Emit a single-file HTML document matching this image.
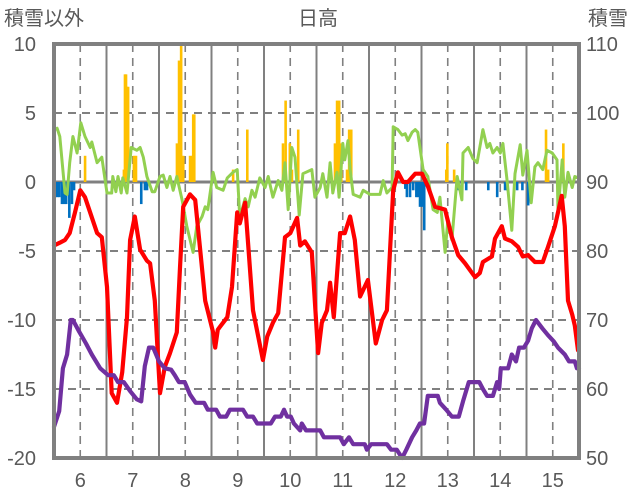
<!DOCTYPE html>
<html><head><meta charset="utf-8">
<style>
html,body{margin:0;padding:0;background:#fff;}
svg{display:block;font-family:"Liberation Sans","Noto Sans CJK JP",sans-serif;}
</style></head>
<body>
<svg id="chart" width="636" height="501" viewBox="0 0 636 501">
<text x="4" y="25" font-size="20" fill="#595959">積雪以外</text>
<text x="318" y="25" font-size="20" fill="#595959" text-anchor="middle">日高</text>
<text x="588" y="25" font-size="20" fill="#595959">積雪</text>
<g id="grid"></g>
<g id="bars"></g>
<g id="lines"></g>
<g id="axes"></g>
</svg>
<script>
const xTicks=[6,7,8,9,10,11,12,13,14,15];
const yLeftTicks=[10,5,0,-5,-10,-15,-20];
const yRightTicks=[110,100,90,80,70,60,50];
const barT=[6.09,6.83,6.85,6.87,6.89,6.91,7.02,7.04,7.06,7.84,7.88,7.92,7.96,8.09,8.13,8.15,8.17,8.91,9.18,9.86,9.91,9.99,10.03,10.15,10.85,10.89,10.93,10.97,11.08,11.12,11.16,12.97,12.99,13.12,14.87,14.91,15.20,
5.52,5.56,5.60,5.65,5.69,5.73,5.79,5.84,5.88,7.16,7.23,7.27,12.19,12.22,12.28,12.34,12.40,12.43,12.47,12.51,12.55,13.20,13.27,13.35,13.77,13.94,14.09,14.13,14.32,14.42,14.53];
const barV=[1.9,0.9,7.8,7.8,6.9,6.9,1.9,0.9,1.9,2.8,8.8,10,1.9,1.9,1.9,4.9,4.9,0.9,3.8,2.8,5.9,2.8,0.9,3.8,2.8,5.9,5.9,2.8,0.9,3.8,3.8,0.9,2.8,0.9,3.8,0.9,2.8,
-1.1,-1.1,-1.1,-1.6,-1.6,-1.6,-2.6,-1.6,-0.6,-1.6,-0.6,-0.6,-0.5,-1.1,-1.1,-0.6,-1.1,-1.1,-1.8,-1.8,-3.5,-0.6,-0.6,-0.6,-0.6,-1.1,-0.6,-0.6,-0.6,-0.6,-1.7];
const greenT=[5.50,5.56,5.61,5.71,5.75,5.80,5.86,5.94,6.01,6.09,6.19,6.22,6.32,6.41,6.51,6.60,6.62,6.68,6.72,6.78,6.81,6.89,6.97,7.08,7.14,7.20,7.27,7.37,7.42,7.52,7.58,7.65,7.71,7.77,7.84,7.94,8.03,8.15,8.22,8.32,8.38,8.43,8.53,8.60,8.72,8.80,8.91,8.99,9.04,9.14,9.20,9.27,9.33,9.42,9.52,9.58,9.67,9.77,9.84,9.90,9.96,10.03,10.09,10.17,10.24,10.41,10.47,10.57,10.62,10.70,10.76,10.81,10.89,10.93,11.00,11.04,11.10,11.14,11.20,11.33,11.39,11.52,11.71,11.77,11.84,11.94,11.96,12.05,12.13,12.19,12.24,12.32,12.38,12.43,12.53,12.62,12.72,12.80,12.85,12.95,13.00,13.08,13.18,13.27,13.29,13.39,13.48,13.56,13.67,13.75,13.80,13.86,13.94,14.00,14.05,14.13,14.22,14.28,14.38,14.43,14.51,14.59,14.66,14.72,14.81,14.89,14.99,15.08,15.10,15.18,15.23,15.29,15.37,15.42,15.48];
const greenV=[3.8,3.9,3.3,-0.8,-0.9,1.4,3.3,2.1,4.3,3.3,2.5,2.9,1.4,1.8,-0.8,-0.8,0.4,-0.7,0.4,-0.8,0.3,-0.8,2.5,2.3,2.5,1.8,0.4,-0.7,-0.7,0.4,0.5,-0.4,0.4,-0.6,0.4,-1.3,-3.2,-5.1,-3.2,-2.5,-1.8,-2,0.7,-0.4,-0.6,0.3,0.7,0.9,-2.6,-1.2,-1.8,-0.6,-1.1,0.3,-0.4,0.4,-1.1,0.1,-0.6,1.4,-2,2.5,1.8,-2.4,0.6,0.9,-1.1,-0.4,0.6,-1.1,1.4,-0.8,0.7,-1.1,2.8,1.6,3,0.9,-0.9,-1.1,-0.6,-0.9,-0.9,0.1,-0.8,-0.4,4,3.8,3.4,3.5,3,3.6,3.8,3.6,0.9,0.4,-2,-2.2,-1.1,-5.1,-2.8,-4.2,0.4,-1.3,2.1,2.5,1.7,1.4,3.8,2.5,2.8,2.1,2.5,2.1,2.8,0.1,-3.5,0.6,2.7,0.5,2.3,-1.5,1.1,1.4,0.9,2.3,2.1,1.6,-2.2,1.6,-1.1,0.7,-0.4,0.4,0.3];
const redT=[5.50,5.61,5.71,5.80,5.90,6.00,6.09,6.32,6.41,6.51,6.60,6.70,6.80,6.89,6.95,7.04,7.14,7.27,7.33,7.42,7.52,7.61,7.71,7.84,7.90,7.96,8.09,8.19,8.28,8.38,8.53,8.57,8.62,8.66,8.80,8.89,8.99,9.04,9.14,9.29,9.48,9.56,9.67,9.77,9.90,10.00,10.13,10.19,10.28,10.41,10.53,10.60,10.70,10.76,10.83,10.95,11.04,11.14,11.23,11.33,11.48,11.63,11.75,11.84,11.96,12.05,12.15,12.24,12.38,12.51,12.62,12.76,12.95,13.08,13.20,13.33,13.52,13.61,13.67,13.84,13.90,14.03,14.09,14.22,14.34,14.43,14.53,14.66,14.81,14.91,15.04,15.17,15.23,15.29,15.37,15.42,15.48];
const redV=[-4.6,-4.4,-4.2,-3.7,-2.2,-0.6,-1.1,-3.7,-4.0,-7.6,-15.3,-16,-13.8,-9.8,-4.2,-2.5,-4.9,-5.7,-5.9,-8.6,-15.3,-13.4,-12.4,-10.9,-6.2,-1.8,-0.9,-1.3,-4.7,-8.6,-10.9,-12,-10.7,-10.5,-9.8,-7.6,-2.2,-3,-1.5,-9.3,-12.9,-11.2,-10.2,-9.5,-4,-3.7,-2.6,-4.6,-4.3,-5.1,-12.4,-10.2,-9.3,-7.3,-9.8,-3.7,-3.7,-2.5,-4.2,-8.3,-7.1,-11.7,-10,-9.3,-0.6,0.7,0,0,0.6,0.6,-0.3,-1.8,-2,-4,-5.3,-5.9,-6.9,-6.6,-5.8,-5.4,-4.1,-3.2,-4.1,-4.3,-4.7,-5.4,-5.3,-5.8,-5.8,-4.7,-3.2,-1,-3.2,-8.6,-9.6,-10.4,-12.2];
const snowT=[5.50,5.60,5.67,5.75,5.82,5.86,5.98,6.11,6.22,6.38,6.53,6.64,6.72,6.83,6.95,7.08,7.16,7.23,7.31,7.39,7.50,7.61,7.73,7.80,7.88,7.99,8.09,8.20,8.36,8.43,8.59,8.66,8.78,8.85,9.10,9.18,9.29,9.37,9.63,9.71,9.82,9.88,9.94,10.01,10.07,10.19,10.22,10.30,10.57,10.64,10.95,11.02,11.12,11.20,11.42,11.46,11.54,11.84,11.92,12.03,12.13,12.21,12.32,12.40,12.47,12.55,12.62,12.81,12.85,12.97,13.08,13.21,13.29,13.40,13.60,13.67,13.75,13.86,13.94,13.98,14.01,14.15,14.22,14.30,14.36,14.45,14.53,14.60,14.68,14.80,14.91,15.02,15.10,15.23,15.31,15.42,15.46,15.50];
const snowV=[54.5,56.8,63,65,70,70,68.3,66.6,65,63,62,62,61,61,59.7,58.5,58.2,63.3,66,66,64,63,62.8,62,61,61,59.2,58,58,57,57,56,56,57,57,56,56,55,55,56,56,57,56,56,55,54,55,54,54,53,53,52,53,52,52,51.2,52,52,51.2,51.2,50,51.2,53,54,55,55,59,59,58,57,56,56,58.2,61,61,60,59,59,61,60,63,63,65,64,66,66,67,68.8,70,68.8,67.8,66.9,66,65,64,64,63,63];

const L=54,R=579,T=44,B=458;
const NS="http://www.w3.org/2000/svg";
function xS(d){return L+(d-5.5)*(R-L)/10;}
function yL(v){return T+(10-v)*(B-T)/30;}
function yR(v){return T+(110-v)*(B-T)/60;}
function mk(tag,attrs,parent){const e=document.createElementNS(NS,tag);for(const k in attrs)e.setAttribute(k,attrs[k]);parent.appendChild(e);return e;}
const grid=document.getElementById('grid'),bars=document.getElementById('bars'),lines=document.getElementById('lines'),axes=document.getElementById('axes');

yLeftTicks.forEach(v=>{
  if(v===10||v===-20||v===0)return;
  const l=mk('line',{x1:L,x2:R,y1:yL(v),y2:yL(v),stroke:'#808080','stroke-width':2,'stroke-dasharray':'8,6'},grid);
  
  
});
for(let d=6;d<=15;d++){
  const a=mk('line',{x1:xS(d),x2:xS(d),y1:T,y2:B,stroke:'#808080','stroke-width':1.6,'stroke-dasharray':'8,6'},grid);
  
  
  if(d<15){
    const b=mk('line',{x1:xS(d+0.5),x2:xS(d+0.5),y1:T,y2:B,stroke:'#808080','stroke-width':2},grid);
    
    
  }
}
barT.forEach((t,i)=>{
  const v=barV[i];const y0=yL(0),y1=yL(Math.min(v,10));
  const r=mk('rect',{x:xS(t)-1.2,width:2.6,y:Math.min(y0,y1),height:Math.abs(y1-y0),fill:v>0?'#FFC000':'#0070C0'},bars);
  
  
});
const zl=mk('line',{x1:L,x2:R,y1:yL(0),y2:yL(0),stroke:'#808080','stroke-width':3},grid);



function poly(ts,vs,ys,color,w,name){
  const p=ts.map((t,i)=>xS(t).toFixed(1)+','+ys(vs[i]).toFixed(1)).join(' ');
  const e=mk('polyline',{points:p,fill:'none',stroke:color,'stroke-width':w,'stroke-linejoin':'round','stroke-linecap':'round'},lines);
  
  
}
poly(greenT,greenV,yL,'#92D050',3,'green-series-line');
poly(redT,redV,yL,'#FF0000',4.2,'temperature-line');
poly(snowT,snowV,yR,'#7030A0',4.2,'snow-depth-line');

const fr=mk('rect',{x:L,y:T,width:R-L,height:B-T,fill:'none',stroke:'#808080','stroke-width':4},axes);


yLeftTicks.forEach(v=>{
  const t=mk('text',{x:36,y:yL(v)+7,'font-size':20,fill:'#595959','text-anchor':'end'},axes);
  t.textContent=v;
  
  
});
yRightTicks.forEach(v=>{
  const t=mk('text',{x:586,y:yR(v)+7,'font-size':20,fill:'#595959'},axes);
  t.textContent=v;
  
  
});
xTicks.forEach(d=>{
  const t=mk('text',{x:xS(d),y:487,'font-size':20,fill:'#595959','text-anchor':'middle'},axes);
  t.textContent=d;
  
  
});
</script>
</body></html>
